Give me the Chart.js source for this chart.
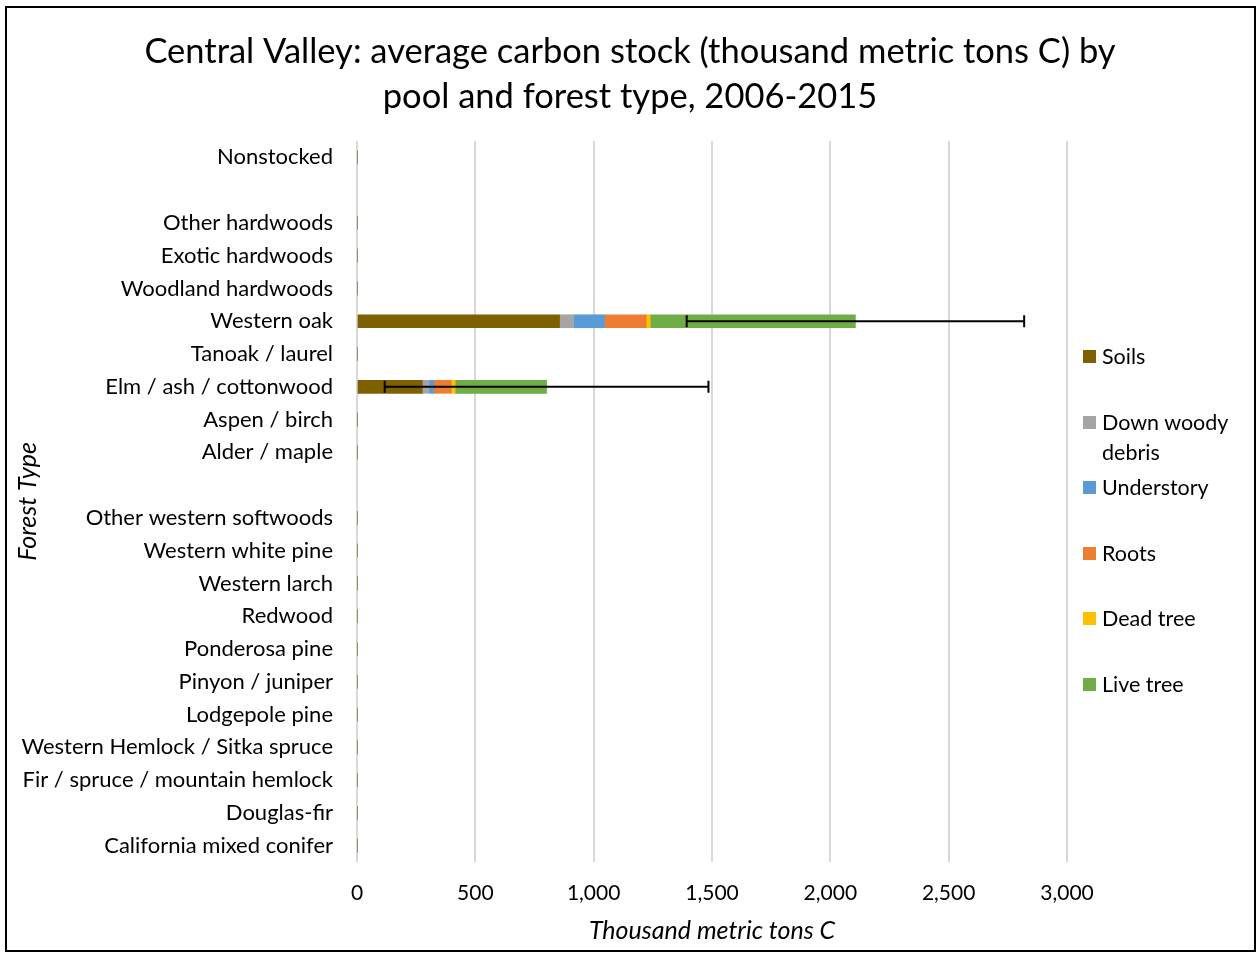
<!DOCTYPE html>
<html>
<head>
<meta charset="utf-8">
<script src="https://cdn.jsdelivr.net/npm/chart.js@4"></script>
<style>
  body { margin: 0; background: #fff; }
  #wrap { position: relative; width: 1259px; height: 956px; }
  #legend { position: absolute; left: 1083px; top: 341px; font-family: Lato, sans-serif; font-size: 21.5px; color: #000; }
  #legend .item { height: 65.6px; display: flex; align-items: flex-start; }
  #legend .box { width: 13px; height: 13px; margin-top: 9px; margin-right: 6px; flex: none; }
  #legend .txt { line-height: 30px; width: 140px; }
</style>
</head>
<body>
<div id="wrap">
  <canvas id="myChart" width="1259" height="956"></canvas>
  <div id="legend"></div>
</div>
<script>
// forest types, top to bottom ('' = empty spacer rows)
const forestTypes = [
    "Nonstocked", "", "Other hardwoods", "Exotic hardwoods", "Woodland hardwoods",
    "Western oak", "Tanoak / laurel", "Elm / ash / cottonwood", "Aspen / birch", "Alder / maple",
    "", "Other western softwoods", "Western white pine", "Western larch", "Redwood",
    "Ponderosa pine", "Pinyon / juniper", "Lodgepole pine", "Western Hemlock / Sitka spruce",
    "Fir / spruce / mountain hemlock", "Douglas-fir", "California mixed conifer"
];

// carbon pools (thousand metric tons C)
const soils      = [0, null, 0, 0, 0, 856, 0, 276, 0, 0, null, 0, 0, 0, 0, 0, 0, 0, 0, 0, 0, 0];
const downWoody  = [0, null, 0, 0, 0, 59, 0, 28, 0, 0, null, 0, 0, 0, 0, 0, 0, 0, 0, 0, 0, 0];
const understory = [0, null, 0, 0, 0, 131, 0, 21, 0, 0, null, 0, 0, 0, 0, 0, 0, 0, 0, 0, 0, 0];
const roots      = [0, null, 0, 0, 0, 176, 0, 73, 0, 0, null, 0, 0, 0, 0, 0, 0, 0, 0, 0, 0, 0];
const deadTree   = [0, null, 0, 0, 0, 17, 0, 17, 0, 0, null, 0, 0, 0, 0, 0, 0, 0, 0, 0, 0, 0];
const liveTree   = [0, null, 0, 0, 0, 867, 0, 386, 0, 0, null, 0, 0, 0, 0, 0, 0, 0, 0, 0, 0, 0];
// error (+/-) on total stock
const totalError = [0, null, 0, 0, 0, 713, 0, 684, 0, 0, null, 0, 0, 0, 0, 0, 0, 0, 0, 0, 0, 0];

const xTicks = [0, 500, 1000, 1500, 2000, 2500, 3000];

const titleLines = ["Central Valley: average carbon stock (thousand metric tons C) by", "pool and forest type, 2006-2015"];

const pools = [
    { label: "Soils", data: soils, color: "#7F6000" },
    { label: "Down woody debris", data: downWoody, color: "#A5A5A5" },
    { label: "Understory", data: understory, color: "#5B9BD5" },
    { label: "Roots", data: roots, color: "#ED7D31" },
    { label: "Dead tree", data: deadTree, color: "#FFC000" },
    { label: "Live tree", data: liveTree, color: "#70AD47" },
];

const FONT = "Lato, sans-serif";

// error bars on the stacked totals, plus title and frame across the whole canvas
const extras = {
    id: "extras",
    afterDatasetsDraw(chart) {
        const { ctx, scales: { x, y } } = chart;
        ctx.save();
        ctx.strokeStyle = "#000";
        ctx.lineWidth = 2;
        forestTypes.forEach((_, i) => {
            const err = totalError[i];
            if (!err) return;
            const total = pools.reduce((s, p) => s + (p.data[i] || 0), 0);
            const yy = y.getPixelForValue(i);
            const x0 = x.getPixelForValue(total - err);
            const x1 = x.getPixelForValue(total + err);
            ctx.beginPath();
            ctx.moveTo(x0, yy); ctx.lineTo(x1, yy);
            ctx.moveTo(x0, yy - 6); ctx.lineTo(x0, yy + 6);
            ctx.moveTo(x1, yy - 6); ctx.lineTo(x1, yy + 6);
            ctx.stroke();
        });
        ctx.restore();
    },
    afterDraw(chart) {
        const ctx = chart.ctx;
        ctx.save();
        ctx.fillStyle = "#000";
        ctx.font = "34.5px " + FONT;
        ctx.textAlign = "center";
        ctx.textBaseline = "middle";
        titleLines.forEach((t, i) => ctx.fillText(t, 630, 52 + i * 45));
        ctx.strokeStyle = "#000";
        ctx.lineWidth = 2;
        ctx.strokeRect(6, 7, 1249, 944);
        ctx.restore();
    }
};

const ctx = document.getElementById("myChart").getContext("2d");
const myChart = new Chart(ctx, {
    type: "bar",
    data: {
        labels: forestTypes,
        datasets: pools.map((p) => ({
            label: p.label,
            data: p.data,
            backgroundColor: p.color,
            borderWidth: 0,
            barThickness: 13,
        })),
    },
    options: {
        indexAxis: "y",
        responsive: false,
        animation: false,
        layout: { padding: { left: 0, right: 192, top: 141, bottom: 0 } },
        plugins: {
            legend: { display: false },
            tooltip: { enabled: false },
            title: { display: false },
        },
        scales: {
            x: {
                stacked: true,
                min: 0,
                max: 3000,
                afterBuildTicks(scale) { scale.ticks = xTicks.map((v) => ({ value: v })); },
                afterFit(scale) { scale.height = 94; },
                grid: { color: "#d9d9d9", lineWidth: 2, drawTicks: false },
                border: { display: false },
                ticks: {
                    color: "#000",
                    padding: 19,
                    font: { family: FONT, size: 21 },
                    callback: (v) => v.toLocaleString("en-US"),
                },
                title: {
                    display: true,
                    text: "Thousand metric tons C",
                    color: "#000",
                    font: { family: FONT, size: 25, style: "italic", lineHeight: 1.2 },
                    padding: { top: 0, bottom: 10 },
                },
            },
            y: {
                stacked: true,
                afterFit(scale) { scale.width = 357; },
                grid: { display: false },
                border: { display: false },
                ticks: {
                    color: "#000",
                    padding: 16,
                    autoSkip: false,
                    font: { family: FONT, size: 22 },
                },
                title: {
                    display: true,
                    text: "Forest Type",
                    color: "#000",
                    font: { family: FONT, size: 25, style: "italic", lineHeight: 1.2 },
                    padding: { top: 13, bottom: 0 },
                },
            },
        },
    },
    plugins: [extras],
});

// legend, built from the same series list
const legendEl = document.getElementById("legend");
pools.forEach((p) => {
    const item = document.createElement("div");
    item.className = "item";
    item.innerHTML = '<span class="box" style="background:' + p.color + '"></span><span class="txt">' + p.label + "</span>";
    legendEl.appendChild(item);
});
</script>
</body>
</html>
